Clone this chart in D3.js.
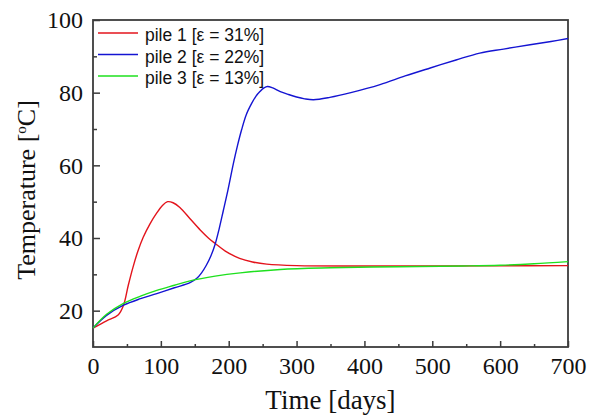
<!DOCTYPE html>
<html>
<head>
<meta charset="utf-8">
<script src="https://cdn.jsdelivr.net/npm/d3@7"></script>
<style>
  body { margin: 0; background: #fff; }
  svg { display: block; }
</style>
</head>
<body>
<div id="chart"></div>
<script>
// curves: [days, temperature]
const pile1 = [[0,15.2],[20,17.2],[37,18.8],[45,21.5],[52,27],[59,32],[66,36.3],[74,40.2],[84,43.9],[94,46.9],
  [102,48.9],[110,50],[118,49.7],[128,48.4],[143,45.3],[158,42.2],[170,40],[180,38.5],[195,36.4],[216,34.4],
  [235,33.4],[256,32.8],[300,32.4],[400,32.3],[500,32.3],[600,32.35],[700,32.4]];
const pile2 = [[0,15.2],[20,18.7],[45,21.5],[70,23.3],[94,24.7],[120,26.3],[143,27.7],[153,28.9],[160,30.4],
  [167,32.5],[174,35.2],[180,38.3],[186,42.6],[192,47.5],[199,53.3],[207,60.6],[213,65.5],[219,69.8],[226,74],
  [234,77.1],[240,79],[246,80.3],[252,81.3],[257,81.7],[265,81.3],[276,80.3],[288,79.5],[300,78.8],[312,78.3],
  [325,78.05],[349,78.7],[380,80],[423,82.2],[460,84.6],[497,86.8],[535,89],[570,90.9],[605,92],[644,93.2],
  [675,94.1],[700,94.9]];
const pile3 = [[0,15.2],[20,19],[45,22],[70,24],[94,25.6],[120,27],[143,28.2],[180,29.5],[217,30.4],[276,31.35],
  [350,31.8],[450,32.1],[545,32.3],[600,32.5],[650,32.9],[700,33.5]];

const seriesNames = ['pile 1 [\u03b5 = 31%]', 'pile 2 [\u03b5 = 22%]', 'pile 3 [\u03b5 = 13%]'];
const seriesColors = ['#e3141c', '#1414d2', '#1ee01e'];
const xMajor = [0,100,200,300,400,500,600,700];
const xMinor = [50,150,250,350,450,550,650];
const yMajor = [20,40,60,80,100];
const yMinor = [30,50,70,90];

const width = 589, height = 417;
const margin = {top: 20, right: 21, bottom: 70, left: 93};
const w = width - margin.left - margin.right,
      h = height - margin.top - margin.bottom;
const axisColor = '#3c3c3c';
const serif = '"Liberation Serif", "Times New Roman", serif';

const svg = d3.select('#chart').append('svg')
  .attr('width', width).attr('height', height);
const g = svg.append('g').attr('transform', `translate(${margin.left},${margin.top})`);

const x = d3.scaleLinear().domain([0, 700]).range([0, w]);
const y = d3.scaleLinear().domain([10, 100]).range([h, 0]);

// axes, ticks pointing inward
function styleAxis(sel) {
  sel.select('.domain').remove();
  sel.selectAll('line').attr('stroke', axisColor).attr('stroke-width', 1.5);
  sel.selectAll('text').attr('fill', '#111').style('font-family', serif).style('font-size', '24px');
}
g.append('g').attr('transform', `translate(0,${h})`)
  .call(d3.axisBottom(x).tickValues(xMajor).tickSize(-6).tickPadding(10).tickFormat(d3.format('d')))
  .call(styleAxis);
g.append('g').attr('transform', `translate(0,${h})`)
  .call(d3.axisBottom(x).tickValues(xMinor).tickSize(-3).tickFormat(''))
  .call(styleAxis);
g.append('g')
  .call(d3.axisLeft(y).tickValues(yMajor).tickSize(-7).tickPadding(10).tickFormat(d3.format('d')))
  .call(styleAxis);
g.append('g')
  .call(d3.axisLeft(y).tickValues(yMinor).tickSize(-4).tickFormat(''))
  .call(styleAxis);

// frame
g.append('rect').attr('width', w).attr('height', h)
  .attr('fill', 'none').attr('stroke', axisColor).attr('stroke-width', 1.8);

// lines
const line = d3.line().x(d => x(d[0])).y(d => y(d[1])).curve(d3.curveCatmullRom.alpha(0.5));
[pile1, pile2, pile3].forEach((s, i) => {
  g.append('path').datum(s)
    .attr('fill', 'none')
    .attr('stroke', seriesColors[i])
    .attr('stroke-width', 1.4)
    .attr('d', line);
});

// legend
const legend = g.append('g').attr('transform', 'translate(5,13)');
seriesNames.forEach((name, i) => {
  const row = legend.append('g').attr('transform', `translate(0,${i * 21.5})`);
  row.append('line').attr('x1', 0).attr('x2', 40).attr('y1', 0).attr('y2', 0)
    .attr('stroke', seriesColors[i]).attr('stroke-width', 1.4);
  row.append('text').attr('x', 47).attr('y', 8)
    .style('font-family', '"Liberation Sans", Arial, sans-serif')
    .style('font-size', '17.5px').attr('fill', '#111')
    .text(name);
});

// axis titles
svg.append('text')
  .attr('x', margin.left + w / 2).attr('y', 409)
  .attr('text-anchor', 'middle')
  .style('font-family', serif).style('font-size', '27px').attr('fill', '#111')
  .text('Time [days]');

const yt = svg.append('text')
  .attr('transform', `translate(35,${margin.top + 170}) rotate(-90)`)
  .attr('text-anchor', 'middle')
  .style('font-family', serif).style('font-size', '26px').attr('fill', '#111');
yt.append('tspan').text('Temperature [');
yt.append('tspan').attr('dy', -9).style('font-size', '15px').text('o');
yt.append('tspan').attr('dy', 9).text('C]');
</script>
</body>
</html>
